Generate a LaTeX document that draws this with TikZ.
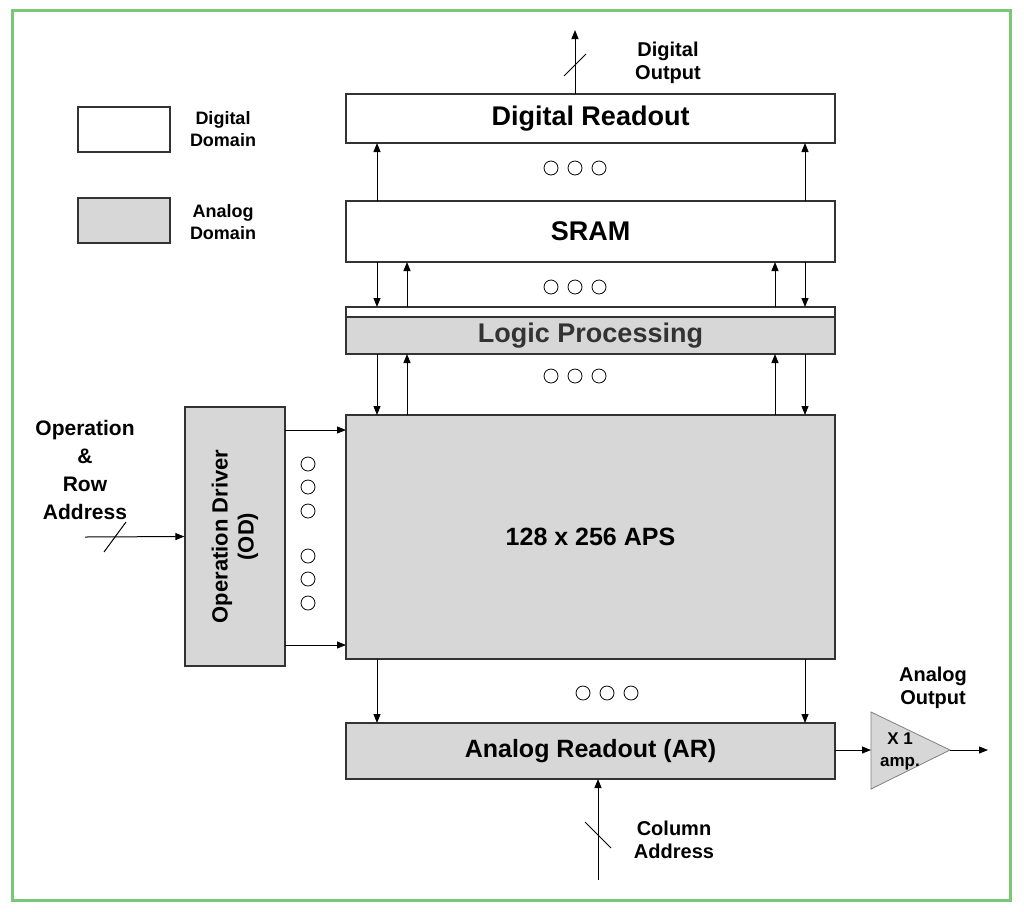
\documentclass[tikz,border=0pt]{standalone}
\usepackage{fontspec}
\setmainfont{Liberation Sans}
\usetikzlibrary{arrows.meta}
\definecolor{gr}{RGB}{215,215,215}
\definecolor{bord}{RGB}{120,200,120}
\begin{document}
\begin{tikzpicture}[x=1pt,y=-1pt,
 blk/.style={draw=black!80,line width=1.2pt},
 ar/.style={-{Triangle[length=9pt,width=7pt]},line width=1pt},
 dot/.style={circle,draw,line width=0.8pt,minimum size=14pt,inner sep=0pt},
 lab/.style={font=\bfseries\fontsize{20}{23}\selectfont,align=center},
 big/.style={font=\bfseries\fontsize{27}{30}\selectfont}]
\useasboundingbox (0,0) rectangle (1024,911);
\draw[bord,line width=3pt] (12,10) rectangle (1010,900);
% legend
\draw[blk,fill=white] (78,107) rectangle (170,152);
\node[lab,font=\bfseries\fontsize{18}{22}\selectfont] (ld) at (223,129) {Digital\\Domain};
\draw[blk,fill=gr] (78,198) rectangle (170,243);
\node[lab,font=\bfseries\fontsize{18}{22}\selectfont] (la) at (223,222) {Analog\\Domain};
% blocks
\node[blk,fill=white,minimum width=489pt,minimum height=49pt,big] (dr) at (590.5,118.5) {Digital Readout};
\node[blk,fill=white,minimum width=489pt,minimum height=61pt,big] (sram) at (590.5,231.5) {SRAM};
\draw[blk,fill=white] (346,307) rectangle (835,354);
\node[blk,fill=gr,minimum width=489pt,minimum height=37pt,big,text=black!80] (lp) at (590.5,335.5) {Logic Processing};
\node[blk,fill=gr,minimum width=489pt,minimum height=244pt,big,font=\bfseries\fontsize{25}{28}\selectfont] (aps) at (590.5,537) {128 x 256 APS};
\node[blk,fill=gr,minimum width=489pt,minimum height=56pt,big,font=\bfseries\fontsize{25}{28}\selectfont] (arb) at (590.5,751) {Analog Readout (AR)};
\node[blk,fill=gr,minimum width=100pt,minimum height=259pt] (od) at (235,536.5) {};
\node[lab,font=\bfseries\fontsize{22}{26}\selectfont,rotate=90] (odt) at (235,536.5) {Operation Driver\\(OD)};
% vertical arrows
\foreach \x in {377,805}{
 \draw[ar] (\x,201) -- (\x,143);
 \draw[ar] (\x,262) -- (\x,307);
 \draw[ar] (\x,354) -- (\x,415);
 \draw[ar] (\x,659) -- (\x,723);}
\foreach \x in {407,775}{
 \draw[ar] (\x,307) -- (\x,262);
 \draw[ar] (\x,415) -- (\x,354);}
% dots
\foreach \y in {168,287,376}{\foreach \x in {551,575,599}{\node[dot] at (\x,\y) {};}}
\foreach \x in {583,607,631}{\node[dot] at (\x,693) {};}
\foreach \y in {464,487,511,556,579,603}{\node[dot] at (308,\y) {};}
% OD arrows
\draw[ar] (285,430) -- (346,430);
\draw[ar] (285,645) -- (346,645);
% input
\node[lab,font=\bfseries\fontsize{21}{28}\selectfont] (opt) at (85,470) {Operation\\\&\\Row\\Address};
\coordinate (in0) at (85,537);
\draw[ar] (in0) -- (od.west);
\draw[line width=1pt] (104,552) -- (126,522);
% digital output
\coordinate (dout) at (575,30);
\draw[ar] (575,94) -- (dout);
\draw[line width=1pt] (564,76) -- (586,54);
\node[lab] (dot1) at (668,63) {Digital\\Output};
% column address
\coordinate (cin) at (598,880);
\draw[ar] (cin) -- (598,779);
\draw[line width=1pt] (585,822) -- (611,848);
\node[lab] (cat) at (674,840) {Column\\Address};
% amp
\draw[draw=black!50,fill=gr,line width=0.8pt] (871,712) -- (950,750) -- (871,789) -- cycle;
\node[font=\bfseries\fontsize{17}{22}\selectfont,align=center] (ampt) at (900,751) {X 1\\amp.};
\draw[ar] (835,750) -- (871,750);
\coordinate (aout) at (988,750);
\draw[ar] (950,750) -- (aout);
\node[lab] (aot) at (933,688) {Analog\\Output};
\end{tikzpicture}
\end{document}
